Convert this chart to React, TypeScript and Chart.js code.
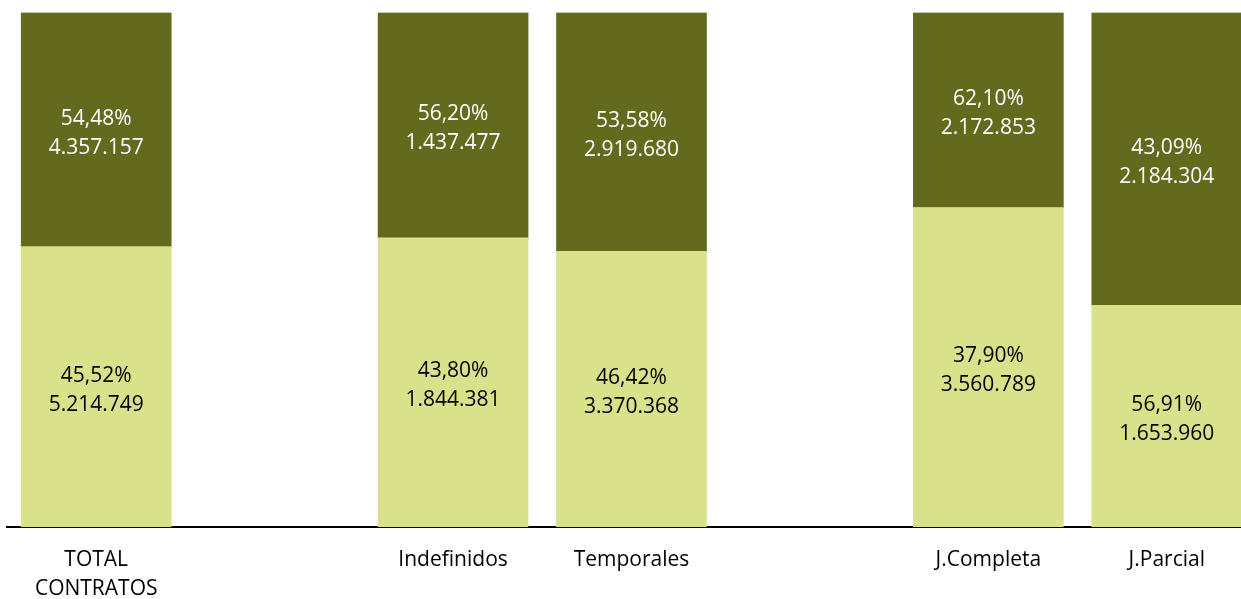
import React, { useEffect, useRef } from "react";
import { Chart, registerables } from "chart.js";

Chart.register(...registerables);

const categories: (string | string[])[] = [["TOTAL", "CONTRATOS"], "", "Indefinidos", "Temporales", "", "J.Completa", "J.Parcial"];
const lightValues: (number | null)[] = [5214749, null, 1844381, 3370368, null, 3560789, 1653960];
const darkValues: (number | null)[] = [4357157, null, 1437477, 2919680, null, 2172853, 2184304];
const lightPctLabels = ["45,52%", "", "43,80%", "46,42%", "", "37,90%", "56,91%"];
const darkPctLabels = ["54,48%", "", "56,20%", "53,58%", "", "62,10%", "43,09%"];

const LIGHT = "#D9E18A";
const DARK = "#636A1D";
const FONT = "'Open Sans', sans-serif";

function fmt(n: number): string {
  return String(n).replace(/\B(?=(\d{3})+(?!\d))/g, ".");
}

function share(a: number | null, b: number | null): number | null {
  if (a == null || b == null) return null;
  return (a / (a + b)) * 100;
}

const lightShare = lightValues.map((v, i) => share(v, darkValues[i]));
const darkShare = darkValues.map((v, i) => share(v, lightValues[i]));

const labelPlugin = {
  id: "segLabels",
  afterDatasetsDraw(chart: any) {
    const ctx = chart.ctx;
    ctx.save();
    ctx.font = `21px ${FONT}`;
    ctx.textAlign = "center";
    ctx.textBaseline = "middle";
    chart.data.datasets.forEach((ds: any, di: number) => {
      const meta = chart.getDatasetMeta(di);
      const raw = di === 0 ? lightValues : darkValues;
      const pct = di === 0 ? lightPctLabels : darkPctLabels;
      meta.data.forEach((el: any, i: number) => {
        const v = raw[i];
        if (v == null) return;
        const cy = (el.y + el.base) / 2 + 3.5;
        ctx.fillStyle = di === 0 ? "#000000" : "#FFFFFF";
        ctx.fillText(pct[i], el.x, cy - 14.5);
        ctx.fillText(fmt(v), el.x, cy + 14.5);
      });
    });
    ctx.restore();
  },
};

export default function App() {
  const ref = useRef<HTMLCanvasElement | null>(null);
  useEffect(() => {
    document.body.style.margin = "0";
    document.body.style.overflow = "hidden";
    document.documentElement.style.overflow = "hidden";
    const chart = new Chart(ref.current!, {
      type: "bar",
      data: {
        labels: categories as any,
        datasets: [
          { data: lightShare as any, backgroundColor: LIGHT, borderWidth: 0, barThickness: 150 },
          { data: darkShare as any, backgroundColor: DARK, borderWidth: 0, barThickness: 150 },
        ],
      },
      options: {
        animation: false,
        responsive: true,
        maintainAspectRatio: false,
        layout: { padding: { top: 12.5, left: 7, right: 4, bottom: 0 } },
        plugins: { legend: { display: false }, tooltip: { enabled: false } },
        scales: {
          x: {
            stacked: true,
            grid: { display: false, drawTicks: false },
            border: { display: true, color: "#000000", width: 2 },
            ticks: {
              color: "#000000",
              padding: 19,
              maxRotation: 0,
              autoSkip: false,
              font: { family: FONT, size: 21, lineHeight: 1.381 },
            },
            afterFit: (s: any) => {
              s.height = 72;
            },
          },
          y: { stacked: true, display: false, min: 0, max: 100 },
        },
      },
      plugins: [labelPlugin],
    });
    return () => chart.destroy();
  }, []);
  return (
    <div style={{ position: "absolute", left: 0, top: 0, width: 1260, height: 599 }}>
      <canvas ref={ref} />
    </div>
  );
}
